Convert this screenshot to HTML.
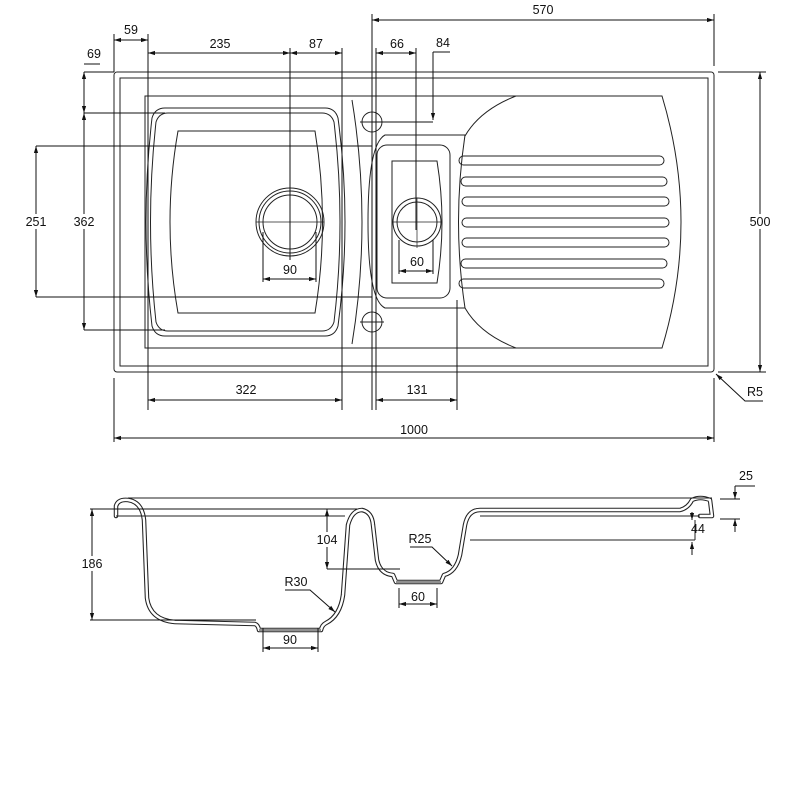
<!DOCTYPE html>
<html><head><style>
html,body{margin:0;padding:0;background:#fff;width:800px;height:800px;overflow:hidden}
svg{display:block}
text{font-family:"Liberation Sans",sans-serif;font-size:12.5px;fill:#111;text-anchor:middle}
</style></head><body>
<svg width="800" height="800" viewBox="0 0 800 800" xmlns="http://www.w3.org/2000/svg">
<defs>
<marker id="a" viewBox="0 0 10 10" refX="10" refY="5" markerWidth="7" markerHeight="7" orient="auto-start-reverse"><path d="M0,2 L10,5 L0,8 z" fill="#111"/></marker>
<path id="sv" d="M116,516 L116,506 Q118,499 128,500 Q142,502 144,520 L147,598 Q150,620 175,622 L255,624 Q258,625 259,630 L321,630 Q322,625 326,623 Q340,616 343,595 L348,525 Q352,510 362,510 Q372,512 373,525 L377,560 Q380,574 393,575 L396,582 L441,582 L444,575 Q456,572 460,555 L465,525 Q468,510 480,510 L680,510 Q688,508 692,500 Q700,496 710,500 L712,516 L700,516"/>
</defs>
<g fill="none" stroke="#222" stroke-width="1">
<rect x="114" y="72" width="600" height="300" rx="3"/>
<rect x="120" y="78" width="588" height="288"/>
<path d="M145,96 L662,96 Q700,222 662,348 L145,348 Z"/>
<path d="M465,136 Q480,110 516,96"/>
<path d="M465,308 Q480,334 516,348"/>
<path d="M352,100 Q372,222 352,344"/>
<path d="M165,108 L325,108 Q335,108 338,118 Q352,222 338,326 Q335,336 325,336 L165,336 Q155,336 152,326 Q140,222 152,118 Q155,108 165,108 Z"/>
<path d="M168,113 L322,113 Q331,113 334,122 Q346,222 334,322 Q331,331 322,331 L168,331 Q159,331 156,322 Q145,222 156,122 Q159,113 168,113 Z"/>
<path d="M178,131 L315,131 Q330,222 315,313 L178,313 Q162,222 178,131 Z"/>
<circle cx="290" cy="222" r="34"/><circle cx="290" cy="222" r="31"/><circle cx="290" cy="222" r="27"/>
<path d="M385,135 L465,135 Q452,222 465,308 L385,308 Q368,300 368,222 Q368,144 385,135 Z"/>
<rect x="377" y="145" width="73" height="153" rx="10"/>
<path d="M392,161 L437,161 Q447,222 437,283 L392,283 Z"/>
<circle cx="417" cy="222" r="24"/><circle cx="417" cy="222" r="20"/>
<rect x="459" y="156" width="205" height="9" rx="4.5"/>
<rect x="461" y="177" width="206" height="9" rx="4.5"/>
<rect x="462" y="197" width="207" height="9" rx="4.5"/>
<rect x="462" y="218" width="207" height="9" rx="4.5"/>
<rect x="462" y="238" width="207" height="9" rx="4.5"/>
<rect x="461" y="259" width="206" height="9" rx="4.5"/>
<rect x="459" y="279" width="205" height="9" rx="4.5"/>
<circle cx="372" cy="122" r="10"/><path d="M360,122 H384 M372,110 V134"/>
<circle cx="372" cy="322" r="10"/><path d="M360,322 H384 M372,310 V334"/>
<path d="M256,222 H324 M290,190 V260 M392,222 H442 M417,198 V248" stroke-width="0.7"/>
</g>
<g fill="none" stroke="#111" stroke-width="1">
<path d="M372,20 H714" marker-start="url(#a)" marker-end="url(#a)"/>
<path d="M372,14 V410 M714,14 V66"/>
<path d="M114,40 H148" marker-start="url(#a)" marker-end="url(#a)"/>
<path d="M114,34 V72 M148,34 V410 M290,48 V260 M342,48 V410 M376,48 V410 M416,48 V230 M457,300 V410"/>
<path d="M148,53 H290" marker-start="url(#a)" marker-end="url(#a)"/>
<path d="M290,53 H342" marker-start="url(#a)" marker-end="url(#a)"/>
<path d="M376,53 H416" marker-start="url(#a)" marker-end="url(#a)"/>
<path d="M433,52 H450 M433,52 V120 M372,122 H433"/>
<path d="M433,80 V120" marker-end="url(#a)"/>
<path d="M84,64 H100"/>
<path d="M84,72 V113" marker-start="url(#a)" marker-end="url(#a)"/>
<path d="M84,113 V330" marker-start="url(#a)" marker-end="url(#a)"/>
<path d="M36,146 V297" marker-start="url(#a)" marker-end="url(#a)"/>
<path d="M84,113 H165 M36,146 H372 M36,297 H372 M84,330 H165 M84,72 H114"/>
<path d="M263,279 H316" marker-start="url(#a)" marker-end="url(#a)"/>
<path d="M263,232 V282 M316,232 V282 M399,240 V274 M433,240 V274"/>
<path d="M399,271 H433" marker-start="url(#a)" marker-end="url(#a)"/>
<path d="M148,400 H342" marker-start="url(#a)" marker-end="url(#a)"/>
<path d="M376,400 H457" marker-start="url(#a)" marker-end="url(#a)"/>
<path d="M114,378 V442 M714,378 V442"/>
<path d="M114,438 H714" marker-start="url(#a)" marker-end="url(#a)"/>
<path d="M718,72 H766 M718,372 H766"/>
<path d="M760,72 V372" marker-start="url(#a)" marker-end="url(#a)"/>
<path d="M763,401 H745 L716,374" marker-end="url(#a)"/>
</g>
<text x="543" y="14">570</text>
<text x="131" y="34">59</text>
<text x="220" y="48">235</text>
<text x="316" y="48">87</text>
<text x="397" y="48">66</text>
<text x="443" y="47">84</text>
<text x="94" y="58">69</text>
<text x="84" y="226" stroke="#fff" stroke-width="6" paint-order="stroke">362</text>
<text x="36" y="226" stroke="#fff" stroke-width="6" paint-order="stroke">251</text>
<text x="290" y="274">90</text>
<text x="417" y="266">60</text>
<text x="246" y="394">322</text>
<text x="417" y="394">131</text>
<text x="414" y="434">1000</text>
<text x="760" y="226" stroke="#fff" stroke-width="6" paint-order="stroke">500</text>
<text x="755" y="396">R5</text>
<g fill="none" stroke-linejoin="round" stroke-linecap="round">
<use href="#sv" stroke="#222" stroke-width="4.5"/>
<use href="#sv" stroke="#fff" stroke-width="2.4"/>
</g>
<g fill="none" stroke="#222" stroke-width="1">
<path d="M128,498 H712 M116,516 H345 M480,516 H700"/>
<path d="M470,540 H695 M695,520 V540"/>
<path d="M259,630 L321,630 M396,582 L441,582"/>
</g>
<g fill="none" stroke="#111" stroke-width="1">
<path d="M90,509 H357 M90,620 H256"/>
<path d="M92,509 V620" marker-start="url(#a)" marker-end="url(#a)"/>
<path d="M327,509 V569" marker-start="url(#a)" marker-end="url(#a)"/>
<path d="M327,569 H400"/>
<path d="M285,590 H310 L335,612" marker-end="url(#a)"/>
<path d="M410,547 H432 L452,566" marker-end="url(#a)"/>
<path d="M263,628 V652 M318,628 V652 M399,588 V608 M437,588 V608"/>
<path d="M263,648 H318" marker-start="url(#a)" marker-end="url(#a)"/>
<path d="M399,604 H437" marker-start="url(#a)" marker-end="url(#a)"/>
<path d="M720,499 H740 M720,519 H740 M735,486 H755"/>
<path d="M735,486 V499" marker-end="url(#a)"/>
<path d="M735,532 V519" marker-end="url(#a)"/>
<path d="M692,512 V520" marker-end="url(#a)"/>
<path d="M692,555 V542" marker-end="url(#a)"/>
</g>
<text x="92" y="568" stroke="#fff" stroke-width="6" paint-order="stroke">186</text>
<text x="327" y="544" stroke="#fff" stroke-width="6" paint-order="stroke">104</text>
<text x="296" y="586">R30</text>
<text x="420" y="543">R25</text>
<text x="290" y="644">90</text>
<text x="418" y="601">60</text>
<text x="746" y="480">25</text>
<text x="698" y="533">44</text>
</svg>
</body></html>
